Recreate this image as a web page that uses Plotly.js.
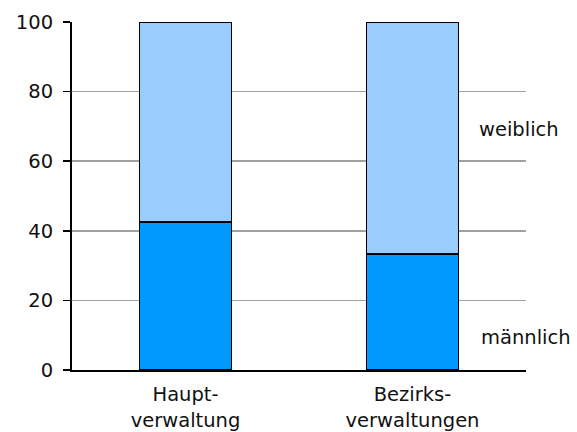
<!DOCTYPE html>
<html>
<head>
<meta charset="utf-8">
<script src="https://cdn.plot.ly/plotly-3.0.1.min.js"></script>
<style>html,body{margin:0;padding:0;background:#fff;}#chart{width:577px;height:432px;}</style>
</head>
<body>
<div id="chart"></div>
<script>
var categories = ["Haupt-<br>verwaltung", "Bezirks-<br>verwaltungen"];
var maennlich = [42.5, 33.3];
var weiblich = [57.5, 66.7];
var seriesNames = ["männlich", "weiblich"];
var yTicks = [0, 20, 40, 60, 80, 100];

var font = "DejaVu Sans, sans-serif";
var fs = 19.5;

var traces = [
  {type: "bar", x: categories, y: maennlich, name: seriesNames[0],
   marker: {color: "#0099FF", line: {color: "#000000", width: 1.5}}, width: 0.405},
  {type: "bar", x: categories, y: weiblich, name: seriesNames[1],
   marker: {color: "#99CCFF", line: {color: "#000000", width: 1.5}}, width: 0.405}
];

var layout = {
  width: 577, height: 432,
  margin: {l: 72, r: 51, t: 22, b: 62},
  barmode: "stack",
  showlegend: false,
  paper_bgcolor: "#fff", plot_bgcolor: "#fff",
  font: {family: font, size: fs, color: "#000"},
  xaxis: {
    showline: true, linecolor: "#000", linewidth: 2,
    ticks: "", showgrid: false, ticklabelstandoff: 6,
    tickfont: {family: font, size: fs, color: "#111"}
  },
  yaxis: {
    range: [0, 100], tickvals: yTicks, ticktext: yTicks.map(String),
    showline: true, linecolor: "#000", linewidth: 2,
    ticks: "outside", ticklen: 7, tickcolor: "#000", tickwidth: 1.5,
    showgrid: true, gridcolor: "#A0A0A0", gridwidth: 1.5,
    zeroline: false, ticklabelstandoff: 6,
    tickfont: {family: font, size: fs, color: "#111"}
  },
  annotations: [
    {xref: "paper", yref: "y", x: 0.893, y: 69, xanchor: "left", yanchor: "middle",
     text: seriesNames[1], showarrow: false, font: {family: font, size: fs, color: "#111"}},
    {xref: "paper", yref: "y", x: 0.897, y: 9.2, xanchor: "left", yanchor: "middle",
     text: seriesNames[0], showarrow: false, font: {family: font, size: fs, color: "#111"}}
  ]
};

Plotly.newPlot("chart", traces, layout, {displayModeBar: false, staticPlot: true});
</script>
</body>
</html>
